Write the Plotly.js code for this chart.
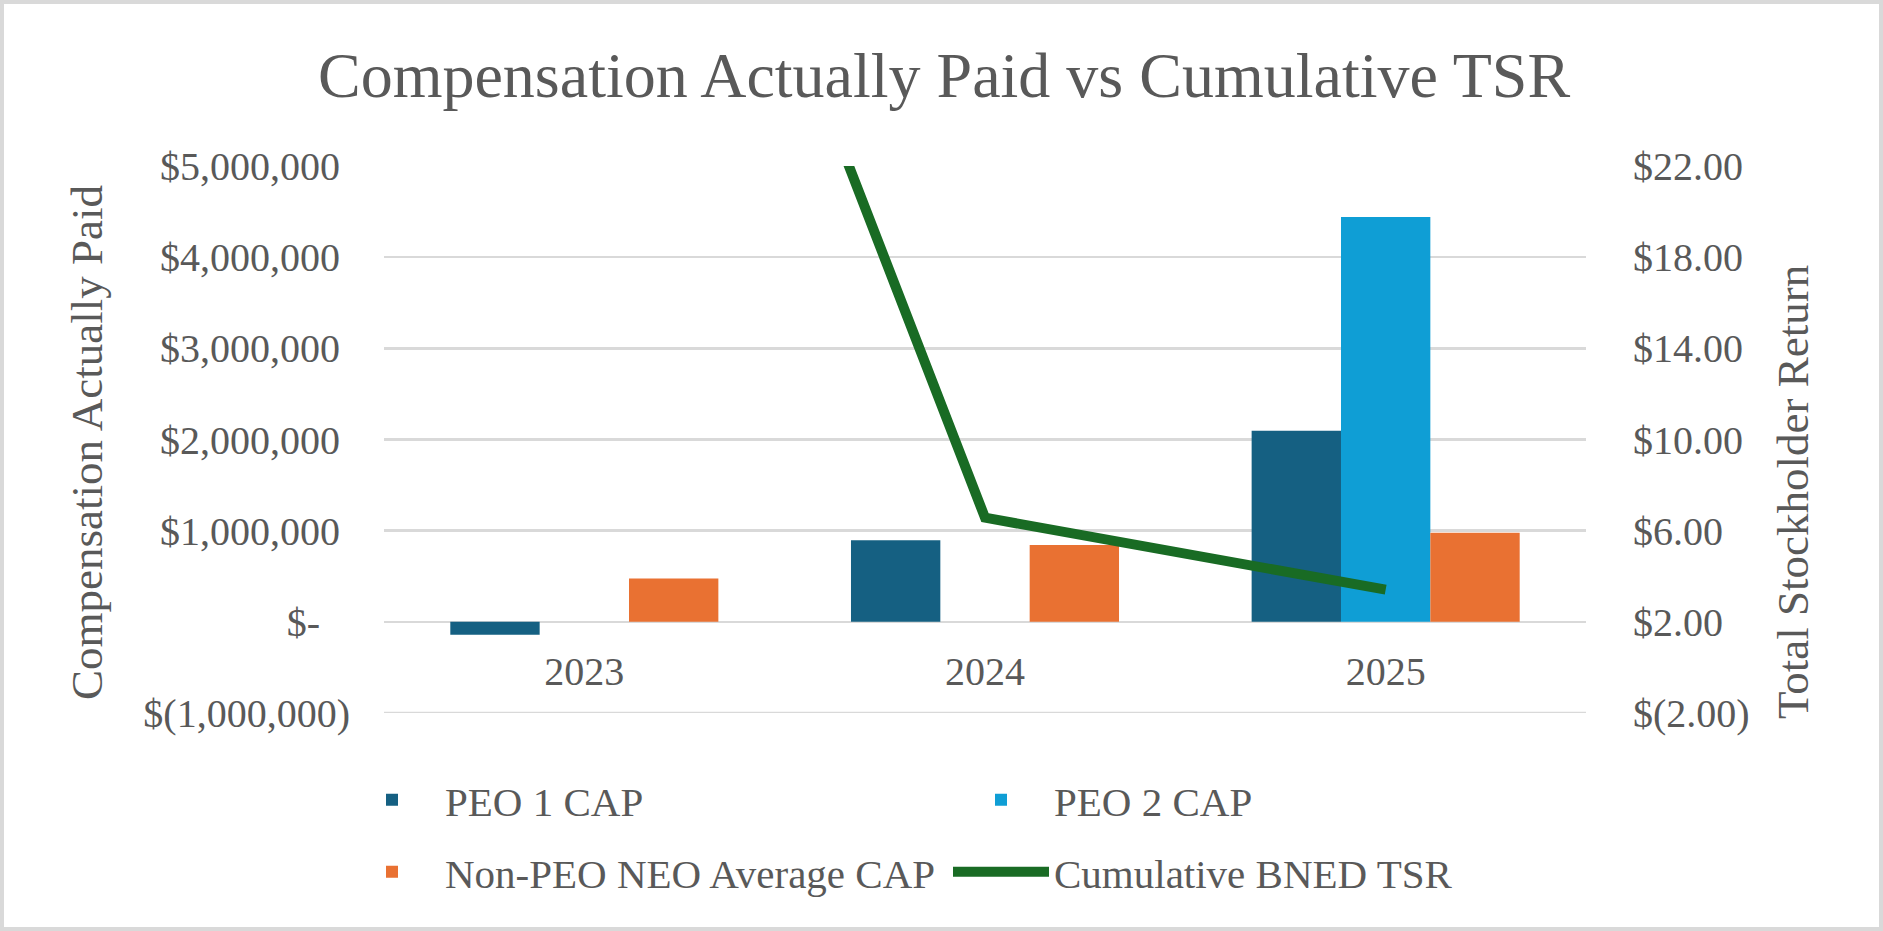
<!DOCTYPE html>
<html>
<head>
<meta charset="utf-8">
<script src="https://cdn.plot.ly/plotly-3.0.1.min.js"></script>
<style>
  html, body { margin: 0; padding: 0; background: #ffffff; }
  #chart { width: 1883px; height: 931px; position: relative; }
  #frame { position: absolute; left: 0; top: 0; width: 1883px; height: 931px; box-sizing: border-box; border: 4px solid #d9d9d9; pointer-events: none; }
</style>
</head>
<body>
<div id="chart"></div>
<div id="frame"></div>
<script>
// ---- data ----
const years = ['2023', '2024', '2025'];
const peo1Cap = [-143000, 895000, 2095000];
const peo2Cap = [null, null, 4440000];
const nonPeoAvgCap = [476000, 842000, 977000];
const cumulativeTsr = [52.0, 6.57, 3.41];

const seriesNames = ['PEO 1 CAP', 'PEO 2 CAP', 'Non-PEO NEO Average CAP', 'Cumulative BNED TSR'];

const leftTickVals = [-1000000, 0, 1000000, 2000000, 3000000, 4000000, 5000000];
const leftTickText = ['$(1,000,000)', '$-\u00a0\u00a0\u00a0', '$1,000,000\u00a0', '$2,000,000\u00a0', '$3,000,000\u00a0', '$4,000,000\u00a0', '$5,000,000\u00a0'];
const rightTickVals = [-2, 2, 6, 10, 14, 18, 22];
const rightTickText = ['$(2.00)', '$2.00', '$6.00', '$10.00', '$14.00', '$18.00', '$22.00'];

const chartTitle = 'Compensation Actually Paid vs Cumulative TSR';
const leftAxisTitle = 'Compensation Actually Paid';
const rightAxisTitle = 'Total Stockholder Return';

// ---- style ----
const FONT = 'Liberation Serif, Times New Roman, serif';
const TXT = '#595959';
const GRID = '#d9d9d9';
const C_PEO1 = '#156082';
const C_PEO2 = '#0F9ED5';
const C_NEO = '#E97132';
const C_TSR = '#196B24';

const leftRange = [-1000000, 5000000];
const rightRange = [-2, 22];

const traces = [
  { type: 'bar', name: seriesNames[0], x: years, y: peo1Cap, marker: { color: C_PEO1, line: { width: 0 } }, legend: 'legend' },
  { type: 'bar', name: seriesNames[1], x: years, y: peo2Cap, marker: { color: C_PEO2, line: { width: 0 } }, legend: 'legend2' },
  { type: 'bar', name: seriesNames[2], x: years, y: nonPeoAvgCap, marker: { color: C_NEO, line: { width: 0 } }, legend: 'legend3' },
  { type: 'scatter', mode: 'lines', name: seriesNames[3], x: years, y: cumulativeTsr, yaxis: 'y2',
    line: { color: C_TSR, width: 10 }, legend: 'legend4' }
];

const W = 1883, H = 931;
const ml = 384, mr = 297, mt = 166, mb = 218;
const pw = W - ml - mr, ph = H - mt - mb;
const px = v => (v - ml) / pw;            // pixel x -> paper x
const py = v => (H - mb - v) / ph;        // pixel y -> paper y

const legendFont = { family: FONT, size: 41, color: TXT };
function leg(xText, yCenter) {
  return { orientation: 'h', x: px(xText - 106), xanchor: 'left', y: py(yCenter), yanchor: 'middle',
           font: legendFont, bgcolor: 'rgba(0,0,0,0)', borderwidth: 0, itemwidth: 96 };
}

const layout = {
  width: W, height: H,
  margin: { l: ml, r: mr, t: mt, b: mb, pad: 0 },
  paper_bgcolor: '#ffffff', plot_bgcolor: '#ffffff',
  font: { family: FONT, color: TXT },
  title: { text: chartTitle, font: { family: FONT, size: 64, color: TXT },
           xref: 'container', x: 944 / W, xanchor: 'center', yref: 'container', y: 1 - 75 / H, yanchor: 'middle' },
  barmode: 'group', bargap: 0.331, bargroupgap: 0,
  xaxis: { type: 'category', anchor: 'free', position: (0 - leftRange[0]) / (leftRange[1] - leftRange[0]),
           showgrid: false, showline: false, zeroline: false, ticks: '',
           tickfont: { family: FONT, size: 40, color: TXT }, ticklabelstandoff: 22 },
  yaxis: { range: leftRange, tickmode: 'array', tickvals: leftTickVals, ticktext: leftTickText,
           showgrid: true, gridcolor: GRID, gridwidth: 2.5, zeroline: false, showline: false, ticks: '',
           tickfont: { family: FONT, size: 40, color: TXT }, ticklabelstandoff: 33 },
  yaxis2: { range: rightRange, overlaying: 'y', side: 'right', tickmode: 'array', tickvals: rightTickVals, ticktext: rightTickText,
            showgrid: false, zeroline: false, showline: false, ticks: '',
            tickfont: { family: FONT, size: 40, color: TXT }, ticklabelstandoff: 46 },
  // lowest gridline (Plotly omits the gridline on the bottom edge of the plot area)
  shapes: [
    { type: 'line', xref: 'paper', x0: 0, x1: 1, yref: 'y', y0: leftTickVals[0], y1: leftTickVals[0],
      line: { color: GRID, width: 2.5 }, layer: 'below' }
  ],
  legend: leg(445, 800),
  legend2: leg(1054, 800),
  legend3: leg(445, 872),
  legend4: leg(1054, 872),
  annotations: [
    { text: leftAxisTitle, xref: 'paper', yref: 'paper', x: px(87), y: py(443), xanchor: 'center', yanchor: 'middle',
      textangle: -90, showarrow: false, font: { family: FONT, size: 45, color: TXT } },
    { text: rightAxisTitle, xref: 'paper', yref: 'paper', x: px(1793), y: py(492), xanchor: 'center', yanchor: 'middle',
      textangle: -90, showarrow: false, font: { family: FONT, size: 45, color: TXT } }
  ],
  showlegend: true
};

Plotly.newPlot('chart', traces, layout, { displayModeBar: false, staticPlot: true });
</script>
</body>
</html>
